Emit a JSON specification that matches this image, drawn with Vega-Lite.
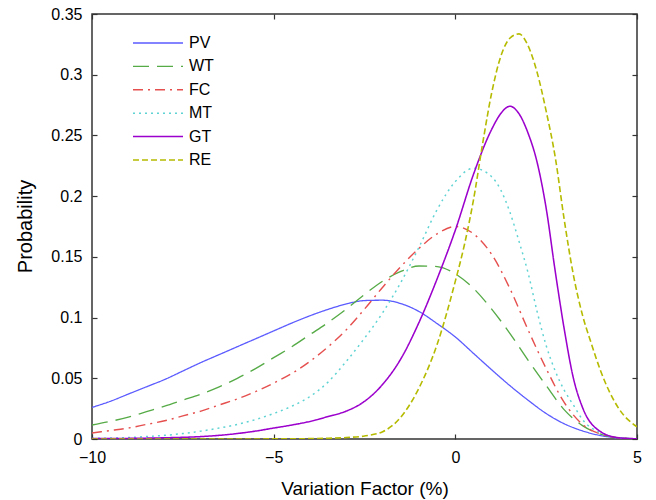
{
  "$schema": "https://vega.github.io/schema/vega-lite/v6.json",
  "width": 545,
  "height": 425,
  "autosize": "none",
  "padding": {"left": 92, "top": 14, "right": 19, "bottom": 61},
  "background": "white",
  "config": {
    "font": "Liberation Sans",
    "view": {"stroke": "#333333", "strokeWidth": 1.5},
    "axis": {"grid": false, "domain": false, "tickColor": "#333333", "tickWidth": 1.2, "tickSize": -5, "labelPadding": 15, "labelFontSize": 16, "labelColor": "black", "titleColor": "black", "titleFontWeight": "normal"}
  },
  "data": {"values": [
    {"s":"PV","x":-10,"y":0.026},{"s":"PV","x":-9.5,"y":0.031},{"s":"PV","x":-9,"y":0.037},{"s":"PV","x":-8.5,"y":0.043},{"s":"PV","x":-8,"y":0.049},{"s":"PV","x":-7.5,"y":0.056},{"s":"PV","x":-7,"y":0.063},{"s":"PV","x":-6.5,"y":0.0695},{"s":"PV","x":-6,"y":0.076},{"s":"PV","x":-5.5,"y":0.0825},{"s":"PV","x":-5,"y":0.089},{"s":"PV","x":-4.5,"y":0.0955},{"s":"PV","x":-4,"y":0.1015},{"s":"PV","x":-3.5,"y":0.1068},{"s":"PV","x":-3,"y":0.1112},{"s":"PV","x":-2.5,"y":0.1140},{"s":"PV","x":-2,"y":0.1143},{"s":"PV","x":-1.5,"y":0.1115},{"s":"PV","x":-1,"y":0.105},{"s":"PV","x":-0.5,"y":0.095},{"s":"PV","x":0,"y":0.084},{"s":"PV","x":0.5,"y":0.0705},{"s":"PV","x":1,"y":0.057},{"s":"PV","x":1.5,"y":0.044},{"s":"PV","x":2,"y":0.032},{"s":"PV","x":2.5,"y":0.021},{"s":"PV","x":3,"y":0.0125},{"s":"PV","x":3.5,"y":0.0067},{"s":"PV","x":4,"y":0.0028},{"s":"PV","x":4.5,"y":0.0009},{"s":"PV","x":5,"y":0.0002},
    {"s":"WT","x":-10,"y":0.0115},{"s":"WT","x":-9.5,"y":0.0145},{"s":"WT","x":-9,"y":0.018},{"s":"WT","x":-8.5,"y":0.0225},{"s":"WT","x":-8,"y":0.027},{"s":"WT","x":-7.5,"y":0.032},{"s":"WT","x":-7,"y":0.037},{"s":"WT","x":-6.5,"y":0.043},{"s":"WT","x":-6,"y":0.050},{"s":"WT","x":-5.5,"y":0.058},{"s":"WT","x":-5,"y":0.067},{"s":"WT","x":-4.5,"y":0.076},{"s":"WT","x":-4,"y":0.086},{"s":"WT","x":-3.5,"y":0.096},{"s":"WT","x":-3,"y":0.107},{"s":"WT","x":-2.5,"y":0.119},{"s":"WT","x":-2,"y":0.130},{"s":"WT","x":-1.5,"y":0.138},{"s":"WT","x":-1,"y":0.1425},{"s":"WT","x":-0.5,"y":0.142},{"s":"WT","x":0,"y":0.136},{"s":"WT","x":0.5,"y":0.124},{"s":"WT","x":1,"y":0.107},{"s":"WT","x":1.5,"y":0.087},{"s":"WT","x":2,"y":0.065},{"s":"WT","x":2.5,"y":0.044},{"s":"WT","x":3,"y":0.024},{"s":"WT","x":3.5,"y":0.011},{"s":"WT","x":4,"y":0.004},{"s":"WT","x":4.5,"y":0.001},{"s":"WT","x":5,"y":0.0002},
    {"s":"FC","x":-10,"y":0.005},{"s":"FC","x":-9.5,"y":0.007},{"s":"FC","x":-9,"y":0.009},{"s":"FC","x":-8.5,"y":0.012},{"s":"FC","x":-8,"y":0.015},{"s":"FC","x":-7.5,"y":0.019},{"s":"FC","x":-7,"y":0.023},{"s":"FC","x":-6.5,"y":0.028},{"s":"FC","x":-6,"y":0.033},{"s":"FC","x":-5.5,"y":0.039},{"s":"FC","x":-5,"y":0.046},{"s":"FC","x":-4.5,"y":0.054},{"s":"FC","x":-4,"y":0.064},{"s":"FC","x":-3.5,"y":0.076},{"s":"FC","x":-3,"y":0.090},{"s":"FC","x":-2.5,"y":0.107},{"s":"FC","x":-2,"y":0.125},{"s":"FC","x":-1.5,"y":0.142},{"s":"FC","x":-1,"y":0.157},{"s":"FC","x":-0.5,"y":0.169},{"s":"FC","x":0,"y":0.175},{"s":"FC","x":0.5,"y":0.169},{"s":"FC","x":1,"y":0.152},{"s":"FC","x":1.5,"y":0.124},{"s":"FC","x":2,"y":0.090},{"s":"FC","x":2.5,"y":0.058},{"s":"FC","x":3,"y":0.030},{"s":"FC","x":3.5,"y":0.012},{"s":"FC","x":4,"y":0.004},{"s":"FC","x":4.5,"y":0.001},{"s":"FC","x":5,"y":0.0002},
    {"s":"MT","x":-10,"y":0.0005},{"s":"MT","x":-9.5,"y":0.0008},{"s":"MT","x":-9,"y":0.0012},{"s":"MT","x":-8.5,"y":0.002},{"s":"MT","x":-8,"y":0.003},{"s":"MT","x":-7.5,"y":0.0045},{"s":"MT","x":-7,"y":0.0065},{"s":"MT","x":-6.5,"y":0.009},{"s":"MT","x":-6,"y":0.012},{"s":"MT","x":-5.5,"y":0.016},{"s":"MT","x":-5,"y":0.021},{"s":"MT","x":-4.5,"y":0.027},{"s":"MT","x":-4,"y":0.035},{"s":"MT","x":-3.5,"y":0.047},{"s":"MT","x":-3,"y":0.064},{"s":"MT","x":-2.5,"y":0.083},{"s":"MT","x":-2,"y":0.104},{"s":"MT","x":-1.5,"y":0.129},{"s":"MT","x":-1,"y":0.158},{"s":"MT","x":-0.5,"y":0.189},{"s":"MT","x":0,"y":0.212},{"s":"MT","x":0.5,"y":0.223},{"s":"MT","x":1,"y":0.216},{"s":"MT","x":1.25,"y":0.205},{"s":"MT","x":1.5,"y":0.187},{"s":"MT","x":1.75,"y":0.163},{"s":"MT","x":2,"y":0.137},{"s":"MT","x":2.25,"y":0.105},{"s":"MT","x":2.5,"y":0.077},{"s":"MT","x":2.75,"y":0.056},{"s":"MT","x":3,"y":0.040},{"s":"MT","x":3.25,"y":0.028},{"s":"MT","x":3.5,"y":0.016},{"s":"MT","x":4,"y":0.005},{"s":"MT","x":4.5,"y":0.001},{"s":"MT","x":5,"y":0.0002},
    {"s":"GT","x":-10,"y":0.0003},{"s":"GT","x":-9,"y":0.0005},{"s":"GT","x":-8,"y":0.001},{"s":"GT","x":-7,"y":0.002},{"s":"GT","x":-6.5,"y":0.003},{"s":"GT","x":-6,"y":0.0045},{"s":"GT","x":-5.5,"y":0.0065},{"s":"GT","x":-5,"y":0.009},{"s":"GT","x":-4.5,"y":0.0115},{"s":"GT","x":-4,"y":0.0145},{"s":"GT","x":-3.5,"y":0.0185},{"s":"GT","x":-3,"y":0.023},{"s":"GT","x":-2.5,"y":0.031},{"s":"GT","x":-2,"y":0.045},{"s":"GT","x":-1.5,"y":0.066},{"s":"GT","x":-1,"y":0.096},{"s":"GT","x":-0.5,"y":0.132},{"s":"GT","x":0,"y":0.172},{"s":"GT","x":0.5,"y":0.218},{"s":"GT","x":1,"y":0.255},{"s":"GT","x":1.25,"y":0.268},{"s":"GT","x":1.5,"y":0.274},{"s":"GT","x":1.75,"y":0.268},{"s":"GT","x":2,"y":0.252},{"s":"GT","x":2.25,"y":0.228},{"s":"GT","x":2.5,"y":0.190},{"s":"GT","x":2.75,"y":0.138},{"s":"GT","x":3,"y":0.090},{"s":"GT","x":3.25,"y":0.050},{"s":"GT","x":3.5,"y":0.026},{"s":"GT","x":4,"y":0.006},{"s":"GT","x":4.5,"y":0.001},{"s":"GT","x":5,"y":0.0002},
    {"s":"RE","x":-10,"y":0},{"s":"RE","x":-8,"y":0},{"s":"RE","x":-6,"y":0},{"s":"RE","x":-5,"y":0.0001},{"s":"RE","x":-4,"y":0.0003},{"s":"RE","x":-3.5,"y":0.0006},{"s":"RE","x":-3,"y":0.0012},{"s":"RE","x":-2.5,"y":0.0025},{"s":"RE","x":-2,"y":0.006},{"s":"RE","x":-1.5,"y":0.018},{"s":"RE","x":-1,"y":0.042},{"s":"RE","x":-0.5,"y":0.078},{"s":"RE","x":0,"y":0.130},{"s":"RE","x":0.25,"y":0.160},{"s":"RE","x":0.5,"y":0.197},{"s":"RE","x":0.75,"y":0.243},{"s":"RE","x":1,"y":0.285},{"s":"RE","x":1.25,"y":0.315},{"s":"RE","x":1.5,"y":0.330},{"s":"RE","x":1.75,"y":0.3336},{"s":"RE","x":2,"y":0.324},{"s":"RE","x":2.25,"y":0.302},{"s":"RE","x":2.5,"y":0.270},{"s":"RE","x":2.75,"y":0.232},{"s":"RE","x":3,"y":0.180},{"s":"RE","x":3.25,"y":0.135},{"s":"RE","x":3.5,"y":0.102},{"s":"RE","x":3.75,"y":0.078},{"s":"RE","x":4,"y":0.056},{"s":"RE","x":4.5,"y":0.025},{"s":"RE","x":5,"y":0.010}
  ]},
  "layer": [
    {
      "mark": {"type": "line", "interpolate": "monotone", "clip": true},
      "encoding": {
        "x": {"field": "x", "type": "quantitative", "scale": {"domain": [-10, 5], "nice": false, "zero": false},
              "axis": {"orient": "bottom", "values": [-10, -5, 0, 5], "format": "d", "labelFlush": false, "title": "Variation Factor (%)", "titleFontSize": 19, "titleBaseline": "alphabetic", "titleY": 55}},
        "y": {"field": "y", "type": "quantitative", "scale": {"domain": [0, 0.35], "nice": false},
              "axis": {"orient": "left", "values": [0, 0.05, 0.1, 0.15, 0.2, 0.25, 0.3, 0.35], "format": "~g", "labelFlush": false, "title": "Probability", "titleFontSize": 20, "titleX": -67, "titleY": 212, "titleBaseline": "middle", "titleAngle": -90}},
        "color": {"field": "s", "type": "nominal",
                  "scale": {"domain": ["PV", "WT", "FC", "MT", "GT", "RE"], "range": ["#5b5bff", "#56ab47", "#e5504f", "#5fd3d3", "#9b00cc", "#b5bb00"]},
                  "legend": {"orient": "none", "legendX": 40, "legendY": 21, "title": null, "symbolType": "stroke", "symbolSize": 2500, "clipHeight": 16, "rowPadding": 7.4, "labelFontSize": 16, "labelColor": "black", "labelOffset": 5, "padding": 0}},
        "strokeDash": {"field": "s", "type": "nominal",
                       "scale": {"domain": ["PV", "WT", "FC", "MT", "GT", "RE"], "range": [[1, 0], [16, 8], [10, 5, 2, 5], [2, 4], [1, 0], [6, 3]]}},
        "strokeWidth": {"field": "s", "type": "nominal",
                        "scale": {"domain": ["PV", "WT", "FC", "MT", "GT", "RE"], "range": [1.3, 1.6, 1.6, 1.6, 2.6, 2.2]}}
      }
    },
    {
      "mark": {"type": "line", "opacity": 0},
      "encoding": {
        "x": {"field": "x", "type": "quantitative", "axis": {"orient": "top", "values": [-10, -5, 0, 5], "labels": false, "title": null}},
        "y": {"field": "y", "type": "quantitative", "axis": {"orient": "right", "values": [0, 0.05, 0.1, 0.15, 0.2, 0.25, 0.3, 0.35], "labels": false, "title": null}}
      }
    }
  ],
  "resolve": {"axis": {"x": "independent", "y": "independent"}}
}
